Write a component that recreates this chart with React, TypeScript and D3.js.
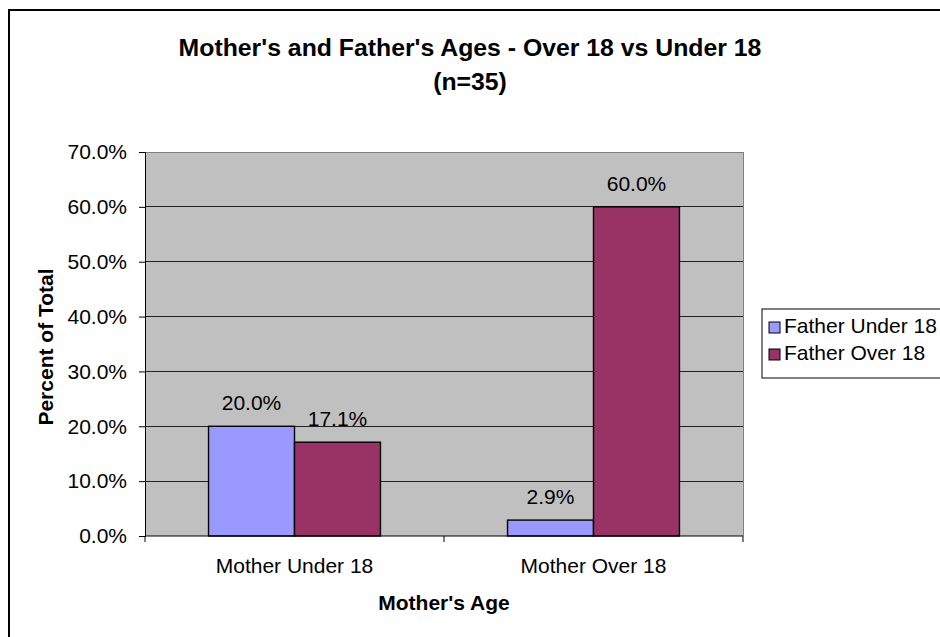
import React, { useEffect, useRef } from 'react';
import * as d3 from 'd3';

const categories = ['Mother Under 18', 'Mother Over 18'];
const seriesNames = ['Father Under 18', 'Father Over 18'];
const fatherUnder18 = [20.0, 2.9];
const fatherOver18 = [17.1, 60.0];
const yTicks = [0, 10, 20, 30, 40, 50, 60, 70];

const colors = ['#9999FF', '#993366'];
const font = 'Arial, "Liberation Sans", sans-serif';

const plot = { left: 145, right: 743, top: 152, bottom: 536 };

const App = () => {
  const svgRef = useRef<SVGSVGElement>(null);

  useEffect(() => {
    const svg = d3.select(svgRef.current);
    svg.selectAll('*').remove();

    // outer chart border
    svg.append('rect')
      .attr('x', 9).attr('y', 10).attr('width', 940).attr('height', 640)
      .attr('fill', '#fff').attr('stroke', '#000').attr('stroke-width', 2);

    const x = d3.scaleBand<string>()
      .domain(categories)
      .range([plot.left, plot.right]);

    const y = d3.scaleLinear()
      .domain([0, 70])
      .range([plot.bottom, plot.top]);

    const inner = d3.scaleBand<string>()
      .domain(seriesNames)
      .range([0, x.bandwidth() * 0.575])
      .padding(0);

    const offset = x.bandwidth() * 0.2125;

    svg.append('rect')
      .attr('x', plot.left).attr('y', plot.top)
      .attr('width', plot.right - plot.left).attr('height', plot.bottom - plot.top)
      .attr('fill', '#C0C0C0');

    // gridlines
    svg.append('g').selectAll('line')
      .data(yTicks.slice(1))
      .join('line')
      .attr('x1', plot.left).attr('x2', plot.right)
      .attr('y1', d => y(d)).attr('y2', d => y(d))
      .attr('stroke', d => (d === 70 ? '#808080' : '#222'))
      .attr('stroke-width', 1)
      .attr('shape-rendering', 'crispEdges');

    // right border of plot
    svg.append('line')
      .attr('x1', plot.right).attr('x2', plot.right)
      .attr('y1', plot.top).attr('y2', plot.bottom)
      .attr('stroke', '#808080').attr('shape-rendering', 'crispEdges');

    const series = [fatherUnder18, fatherOver18];
    const bars = categories.flatMap((c, i) =>
      seriesNames.map((s, j) => ({ cat: c, key: s, value: series[j][i], j })));

    svg.append('g').selectAll('rect')
      .data(bars)
      .join('rect')
      .attr('x', d => (x(d.cat) as number) + offset + (inner(d.key) as number))
      .attr('y', d => y(d.value))
      .attr('width', inner.bandwidth())
      .attr('height', d => plot.bottom - y(d.value))
      .attr('fill', d => colors[d.j])
      .attr('stroke', '#000')
      .attr('stroke-width', 1.4);

    svg.append('g').selectAll('text')
      .data(bars)
      .join('text')
      .attr('x', d => (x(d.cat) as number) + offset + (inner(d.key) as number) + inner.bandwidth() / 2)
      .attr('y', d => y(d.value) - 16)
      .attr('text-anchor', 'middle')
      .attr('font-family', font).attr('font-size', 21)
      .text(d => `${d.value.toFixed(1)}%`);

    // axes
    const yAxis = d3.axisLeft(y)
      .tickValues(yTicks)
      .tickSize(6)
      .tickFormat(d => `${(+d).toFixed(1)}%`);
    const gy = svg.append('g')
      .attr('transform', `translate(${plot.left},0)`)
      .call(yAxis);
    gy.select('.domain').attr('stroke', '#000');
    gy.selectAll('.tick line').attr('stroke', '#000');
    gy.selectAll('.tick text')
      .attr('font-family', font).attr('font-size', 21).attr('fill', '#000')
      .attr('x', -18);

    const gx = svg.append('g')
      .attr('transform', `translate(0,${plot.bottom})`)
      .call(d3.axisBottom(x).tickSize(0));
    gx.select('.domain').attr('stroke', '#000').attr('d', `M${plot.left},0H${plot.right}`);
    gx.selectAll('.tick text')
      .attr('font-family', font).attr('font-size', 21).attr('fill', '#000')
      .attr('y', 37).attr('dy', null);
    gx.append('g').selectAll('line')
      .data([plot.left, (plot.left + plot.right) / 2, plot.right])
      .join('line')
      .attr('x1', d => d).attr('x2', d => d)
      .attr('y1', 0).attr('y2', 6)
      .attr('stroke', '#000');

    // titles
    const title = svg.append('text')
      .attr('text-anchor', 'middle')
      .attr('font-family', font).attr('font-size', 24.8).attr('font-weight', 'bold');
    title.append('tspan').attr('x', 470).attr('y', 56)
      .text("Mother's and Father's Ages - Over 18 vs Under 18");
    title.append('tspan').attr('x', 470).attr('y', 90).text('(n=35)');

    svg.append('text')
      .attr('x', 444).attr('y', 610)
      .attr('text-anchor', 'middle')
      .attr('font-family', font).attr('font-size', 21).attr('font-weight', 'bold')
      .text("Mother's Age");

    svg.append('text')
      .attr('transform', `translate(53,347) rotate(-90)`)
      .attr('text-anchor', 'middle')
      .attr('font-family', font).attr('font-size', 21).attr('font-weight', 'bold')
      .text('Percent of Total');

    // legend
    const lg = svg.append('g').attr('transform', 'translate(762,309)');
    lg.append('rect')
      .attr('width', 200).attr('height', 69)
      .attr('fill', '#fff').attr('stroke', '#000');
    lg.selectAll('g.item')
      .data(seriesNames)
      .join('g')
      .attr('class', 'item')
      .attr('transform', (d, i) => `translate(7,${13 + i * 27})`)
      .each(function (d, i) {
        const g = d3.select(this);
        g.append('rect')
          .attr('width', 11).attr('height', 11)
          .attr('fill', colors[i]).attr('stroke', '#000');
        g.append('text')
          .attr('x', 15).attr('y', 11)
          .attr('font-family', font).attr('font-size', 21)
          .text(d);
      });
  }, []);

  return (
    <svg ref={svgRef} width={940} height={637}
      style={{ position: 'absolute', left: 0, top: 0, display: 'block' }} />
  );
};

export default App;
